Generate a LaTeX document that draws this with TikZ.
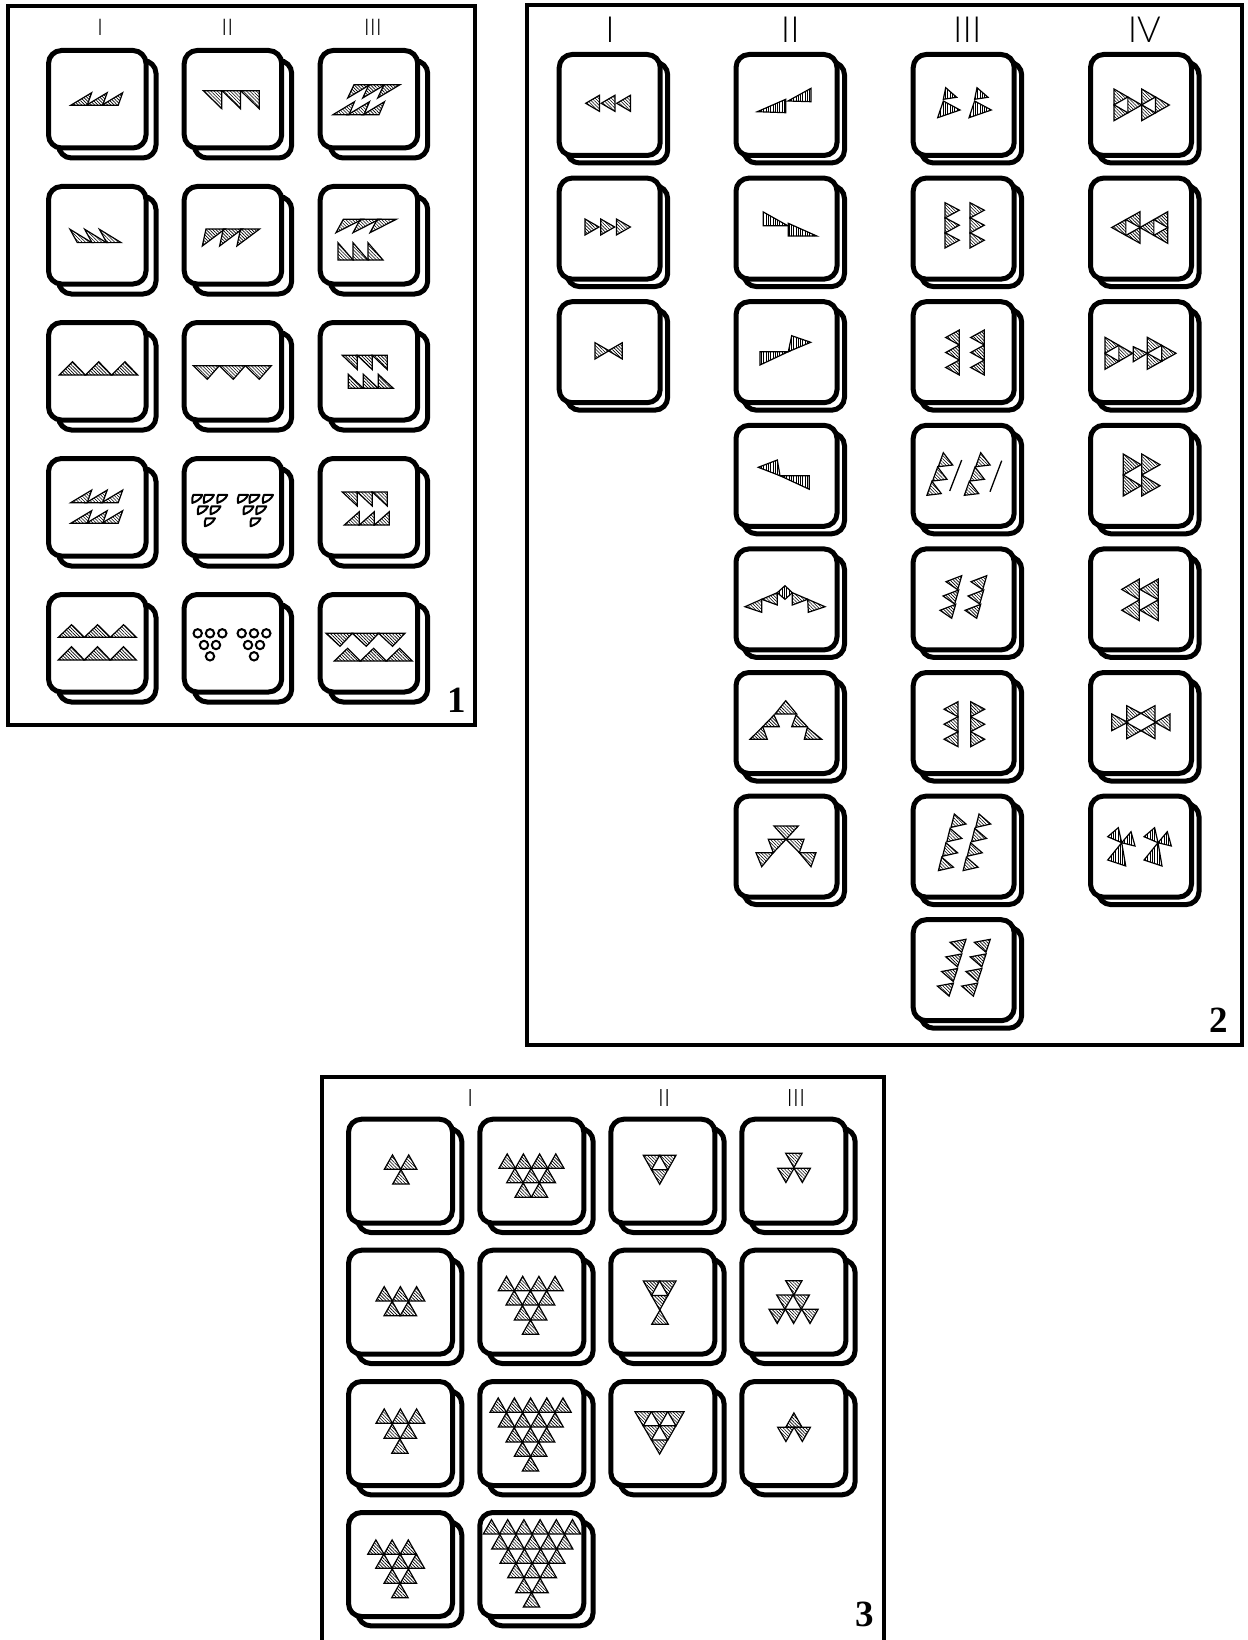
\documentclass[tikz,border=0pt]{standalone}
\usepackage{fontspec}
\usetikzlibrary{patterns.meta,calc}
\setmainfont{Liberation Serif}
\newfontfamily\romfont{Lato Light}
\tikzset{
  wedge/.style={draw,line width=1.2pt,line join=miter,pattern={Lines[angle=-45,distance=2.3pt,line width=.6pt]}},
  vwedge/.style={draw,line width=1.2pt,line join=miter,pattern={Lines[angle=90,distance=2.3pt,line width=.6pt]}},
  frame/.style={draw,line width=4pt},
  card/.style={draw,fill=white,line width=5pt,rounded corners=13pt},
  stroke/.style={draw,line width=1.3pt},
  ring/.style={draw,line width=2pt},
  drop/.style={draw,line width=2pt,line join=round},
  romlabel/.style={inner sep=0pt,font=\romfont\fontsize{#1}{#1}\selectfont},
  numlabel/.style={inner sep=0pt,font=\bfseries\fontsize{37}{37}\selectfont}
}
% card: x y width offset
\newcommand{\card}[4]{%
  \draw[card] ({#1+2.5+#4},{#2+2.5+#4}) rectangle ({#1+#3-2.5+#4},{#2+#3-2.5+#4});
  \draw[card] ({#1+2.5},{#2+2.5}) rectangle ({#1+#3-2.5},{#2+#3-2.5});}
% repeated triangles: n x y dx dy A B
\newcommand{\teeth}[8][wedge]{\foreach \k in {1,...,#2}{%
  \draw[#1,shift={({#3+(\k-1)*(#5)},{#4+(\k-1)*(#6)})}] (0,0) -- (#7) -- (#8) -- cycle;}}
\newcommand{\tria}[4][wedge]{\draw[#1] (#2) -- (#3) -- (#4) -- cycle;}
% triangle split in three, centre left empty
\newcommand{\triad}[3]{%
  \draw[wedge] (#1) -- ($(#1)!.5!(#2)$) -- ($(#1)!.5!(#3)$) -- cycle;
  \draw[wedge] (#2) -- ($(#2)!.5!(#1)$) -- ($(#2)!.5!(#3)$) -- cycle;
  \draw[wedge] (#3) -- ($(#3)!.5!(#1)$) -- ($(#3)!.5!(#2)$) -- cycle;}
% upward and downward rows of panel 3: n xleft y
\newcommand{\ups}[3]{\teeth{#1}{#2}{#3}{16.2}{0}{8.2,-14.4}{16.4,0}}
\newcommand{\downs}[3]{\teeth{#1}{#2}{#3}{16.4}{0}{16.3,0}{8.2,14.2}}
\newcommand{\dropmark}[2]{\draw[drop,shift={({#1+.6},{#2+.6})}] (1,0) -- (10,0) .. controls (8,4.5) and (4.5,6.5) .. (0,8) .. controls (-.4,4.5) and (0,2) .. (1,0) -- cycle;}
\begin{document}
\begin{tikzpicture}[x=1pt,y=-1pt]
\useasboundingbox (0,0) rectangle (1247,1640);
\fill[white] (0,0) rectangle (1247,1640);
% frames
\draw[frame] (8,5.7) rectangle (474.5,724.7);
\draw[frame] (527,5.5) rectangle (1242,1045);
\draw[frame] (321.7,1640) -- (321.7,1077) -- (883.7,1077) -- (883.7,1640);
% labels
\node[romlabel=23] (p1a) at (100,27.3) {I};
\node[romlabel=23] (p1b) at (227.3,27.3) {II};
\node[romlabel=23] (p1c) at (372.8,27.3) {III};
\node[romlabel=36] (p2a) at (610,29.5) {I};
\node[romlabel=36] (p2b) at (790.3,29.5) {II};
\node[romlabel=36] (p2c) at (967.3,29.5) {III};
\node[romlabel=36] (p2d) at (1144.3,29.5) {IV};
\node[romlabel=24] (p3a) at (470.3,1098.3) {I};
\node[romlabel=24] (p3b) at (664,1098.3) {II};
\node[romlabel=24] (p3c) at (796,1098.3) {III};
\node[numlabel] (n1) at (457,700.7) {1};
\node[numlabel] (n2) at (1218.7,1020) {2};
\node[numlabel] (n3) at (865,1614) {3};
% cards
\foreach \cx in {46,181.7,317.7} \foreach \cy in {48,184,320,456,592} {\card{\cx}{\cy}{102.5}{10}}
\foreach \cy in {52,175.6,299.2} {\card{556.7}{\cy}{106}{7.5}}
\foreach \cy in {52,175.6,299.2,422.8,546.4,670,793.6} {\card{733.5}{\cy}{106}{7.5}\card{1088}{\cy}{106}{7.5}}
\foreach \cy in {52,175.6,299.2,422.8,546.4,670,793.6,917.2} {\card{910.7}{\cy}{106}{7.5}}
\foreach \cy in {1116.7,1247.7,1379,1510} {\card{346}{\cy}{109}{9.3}\card{477.3}{\cy}{109}{9.3}}
\foreach \cy in {1116.7,1247.7,1379} {\card{608.3}{\cy}{109}{9.3}\card{739.3}{\cy}{109}{9.3}}
% ---- panel 1
\teeth{3}{70.7}{105.3}{15.5}{0}{21,-12.6}{16.5,0}
\teeth{3}{203.3}{90.7}{18.7}{0}{18.5,18}{18.5,0}
\teeth{3}{354}{84.7}{15}{0}{-6.3,13.3}{16,0}
\teeth{3}{333}{114.7}{15}{0}{21.5,-13}{16,0}
\teeth{3}{70}{229.3}{14.7}{0}{7.3,13.3}{21.7,13.3}
\teeth{3}{206}{229}{17.3}{0}{-3.7,17}{19,0}
\teeth{3}{343.3}{219.3}{17}{0}{-7.3,13.4}{19,0}
\teeth{3}{338}{242.7}{15}{0}{0,17.3}{15,17.3}
\teeth{3}{59.3}{375}{26.2}{0}{13.2,-13.3}{26,0}
\teeth{3}{193.3}{365.7}{26}{0}{14,13.6}{26,0}
\teeth{3}{342.3}{355.3}{15}{0}{15,14.3}{15,0}
\teeth{3}{348.3}{374.3}{15}{0}{0,14}{15,14}
\teeth{3}{70.7}{502.7}{15.5}{0}{21,-12.6}{16.5,0}
\teeth{3}{70.7}{523.3}{15.5}{0}{21,-12.6}{16.5,0}
\foreach \g in {0,45.7} {
  \foreach \a/\b in {191.7/494.3,203.3/494.3,216.7/494.3,197.3/505.7,210/505.7,204.3/517.7} {\dropmark{\a+\g}{\b}}
}
\teeth{3}{342.3}{492}{15}{0}{15,14}{15,0}
\teeth{3}{344.3}{525}{15}{0}{15,-13.3}{15,0}
\teeth{3}{58.3}{637.3}{26}{0}{13.3,-12.6}{26,0}
\teeth{3}{58.3}{660}{26}{0}{13.3,-13.3}{26,0}
\foreach \g in {0,44} {
  \foreach \a/\b in {197.7/633.3,210/633.3,222.3/633.3,204/645,216/645,210/656.3} {\draw[ring] ({\a+\g},\b) circle[radius=4.2];}
}
\teeth{3}{326}{633.3}{26.3}{0}{14,13}{26.3,0}
\teeth{3}{334.3}{661}{26}{0}{13.3,-12.7}{26,0}
% ---- panel 2, column I
\teeth{3}{585.7}{103.3}{15.5}{0}{13.7,-8}{13.7,8}
\teeth{3}{585}{219}{15.7}{0}{14,8}{0,16}
\tria{595,342.7}{595,359}{609,350.7}
\tria{608.3,350.7}{622.3,342.7}{622.3,359}
% column II
\tria[vwedge]{757.3,111.7}{785.7,99.3}{785.7,112.7}
\tria[vwedge]{788,101}{811,88.3}{811,101.7}
\tria[vwedge]{763.3,212}{763.3,225.7}{787.7,225.7}
\tria[vwedge]{788.3,223.3}{788.3,236}{816.7,236}
\tria[vwedge]{760,351.7}{760,365}{788.3,351.7}
\tria[vwedge]{791.7,335.7}{788.3,351.7}{810.7,342.3}
\tria[vwedge]{758.3,467.3}{777.3,460}{780,475.7}
\tria[vwedge]{780,475.7}{809.3,475.7}{809.3,489.3}
\tria{745,606.7}{761.7,599.3}{761.7,612.3}
\tria{761.7,599.3}{777.3,592.7}{777.3,605}
\draw[vwedge] (777.3,592.7) -- (785,585.7) -- (792.3,592.7) -- (785,599.3) -- cycle;
\tria{792.3,592.7}{807.7,599.3}{792.3,605}
\tria{807.7,599.3}{825,606.7}{808.3,612.3}
\tria{785.7,700.7}{775,714}{796.7,714}
\tria{774,715}{762.7,726.7}{779.3,726.7}
\tria{762.7,726.7}{750,739.3}{767.3,739.3}
\tria{796,715}{807.3,726.7}{791.7,726.7}
\tria{807.3,727.5}{821.7,739.3}{804.3,739.3}
\tria{774,826}{798.3,826}{786,839.3}
\tria{768.3,839.3}{786,839.3}{773.3,852.7}
\tria{756,852.7}{773.3,852.7}{761.7,866.7}
\tria{786,839.3}{804,839.3}{799.3,852.7}
\tria{799.3,852.7}{816,852.7}{811,866.7}
% column III
\foreach \g in {0,31.3} {
  \begin{scope}[shift={(\g,0)}]
  \tria[vwedge]{945.7,87.7}{956.7,97.3}{943.3,99.3}
  \tria[vwedge]{943.3,101}{960,110}{937.7,117.7}
  \end{scope}
}
\teeth{3}{945}{202.7}{0}{15}{14.3,7.5}{0,15.3}
\teeth{3}{970}{202.7}{0}{15}{14.3,7.5}{0,15.3}
\teeth{3}{959.3}{330}{0}{15}{-13.6,7.5}{0,15}
\teeth{3}{984.3}{330}{0}{15}{-13.6,7.5}{0,15}
\teeth{3}{943.3}{452.7}{-5.7}{14.3}{9.4,12.3}{-5,14}
\teeth{3}{980.7}{452.7}{-5.7}{14.3}{9.4,12.3}{-5,14}
\draw[stroke] (961.7,460) -- (949.7,491);
\draw[stroke] (1001.7,460.7) -- (990,491.7);
\teeth{3}{961.7}{575.7}{-3}{14.3}{-15.7,6}{-4,14}
\teeth{3}{986.7}{575.7}{-3}{14.3}{-15.7,6}{-4,14}
\teeth{3}{958}{701.7}{0}{15}{-14,7.5}{0,15}
\teeth{3}{970.7}{701.7}{0}{15}{14,7.5}{0,15}
\teeth{4}{954.3}{814}{-4.2}{14.4}{11.7,10}{-3.3,13.4}
\teeth{4}{979}{814}{-4.2}{14.4}{11.7,10}{-3.3,13.4}
\teeth{4}{966}{939.3}{-4.2}{14.6}{-16,3}{-4.3,13}
\teeth{4}{990.3}{939.3}{-4.2}{14.6}{-16,3}{-4.3,13}
% column IV
\triad{1114,89}{1114,120.7}{1141.7,105}
\triad{1141.7,89}{1141.7,120.7}{1169.3,105}
\triad{1140,211.7}{1140,243.3}{1111.7,227.5}
\triad{1167.7,211.7}{1167.7,243.3}{1140,227.5}
\triad{1105,337.3}{1105,369.3}{1132.7,353.3}
\tria{1133.3,346.7}{1133.3,361.7}{1147.3,353.3}
\triad{1147.3,337.3}{1147.3,369.3}{1176,353.3}
\teeth{2}{1123.3}{454}{0}{21}{17.7,10.7}{0,21}
\teeth{2}{1141.7}{454}{0}{21}{18.3,10.7}{0,21}
\teeth{2}{1139.3}{579}{0}{20.8}{-17.6,10.4}{0,20.8}
\teeth{2}{1158.3}{579}{0}{20.8}{-18.3,10.4}{0,20.8}
\tria{1111.7,714}{1111.7,730.7}{1127.7,722.3}
\tria{1126.7,705.7}{1126.7,721.7}{1141,713.3}
\tria{1141,713.3}{1155,705.7}{1155,721.7}
\tria{1126.7,722.7}{1126.7,738.7}{1141,730.7}
\tria{1141,730.7}{1155,722.7}{1155,738.7}
\tria{1155,722.3}{1170,714}{1170,730.7}
\foreach \g in {0,36.3} {
  \begin{scope}[shift={(\g,0)}]
  \tria[vwedge]{1118.3,827.7}{1107.7,836.7}{1121.7,842.7}
  \tria[vwedge]{1131,831.7}{1121.7,842.7}{1135,846}
  \tria[vwedge]{1121.7,842.7}{1107.7,860}{1125.7,866}
  \end{scope}
}
% ---- panel 3
\ups{2}{384.3}{1169.3}\ups{1}{392.7}{1184}
\ups{3}{376}{1301}\ups{2}{384}{1315.7}
\ups{3}{376}{1423.3}\ups{2}{384}{1438.3}\ups{1}{391.7}{1453.3}
\ups{3}{367.7}{1554.3}\ups{3}{375.7}{1568.3}\ups{2}{384}{1583.3}\ups{1}{391.7}{1597.7}
\ups{4}{499}{1168.3}\ups{3}{506.7}{1182.7}\ups{2}{515}{1197.3}
\ups{4}{498.3}{1290.7}\ups{3}{506}{1305}\ups{2}{514.3}{1320}\ups{1}{522.3}{1334.3}
\ups{5}{490}{1412.3}\ups{4}{498.3}{1427}\ups{3}{506}{1442}\ups{2}{514.3}{1456.3}\ups{1}{522.3}{1471}
\ups{6}{483.3}{1534}\ups{5}{491.7}{1549}\ups{4}{500}{1563.3}\ups{3}{507.7}{1577.7}\ups{2}{515.7}{1592.7}\ups{1}{523.3}{1607}
\triad{643.3,1155.3}{676,1155.3}{659.7,1184.3}
\triad{643.3,1281}{676,1281}{659.7,1310}
\tria{651.7,1324.3}{668.3,1324.3}{660,1310}
\downs{3}{635}{1411.7}\downs{2}{643.2}{1425.8}\downs{1}{651.4}{1439.9}
\downs{1}{785.7}{1153.3}\downs{2}{777.7}{1168.3}
\downs{1}{785.7}{1280.7}\downs{2}{776.7}{1295}\downs{3}{769}{1309.3}
\ups{1}{785.7}{1427.3}\downs{2}{777.7}{1427.3}
\end{tikzpicture}
\end{document}
